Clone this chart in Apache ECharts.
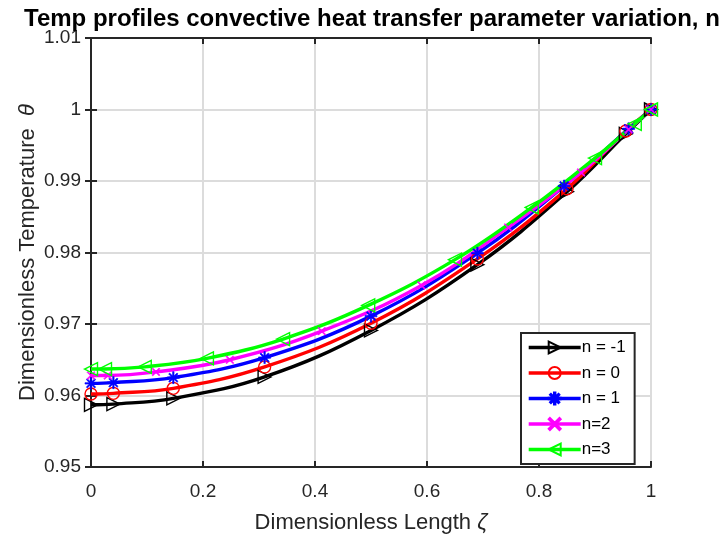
<!DOCTYPE html>
<html>
<head>
<meta charset="utf-8">
<script src="https://cdn.jsdelivr.net/npm/echarts@6/dist/echarts.min.js"></script>
<style>html,body{margin:0;padding:0;background:#fff}#c{width:720px;height:535px}</style>
</head>
<body>
<div id="c"></div>
<script>
// Data (solver mesh points where markers sit)
const seriesNames = ['n = -1', 'n = 0', 'n = 1', 'n=2', 'n=3'];
const xN1 = [0, 0.04, 0.147, 0.31, 0.5, 0.69, 0.85, 0.955, 1];
const yN1 = [0.9587, 0.9588, 0.9596, 0.9626, 0.9691, 0.9783, 0.9885, 0.9966, 1.0];
const xN0 = [0, 0.04, 0.147, 0.31, 0.5, 0.69, 0.85, 0.955, 1];
const yN0 = [0.9602, 0.9603, 0.9610, 0.9640, 0.9701, 0.9791, 0.9889, 0.9970, 1.0];
const xP1 = [0, 0.04, 0.147, 0.31, 0.5, 0.69, 0.845, 0.96, 1];
const yP1 = [0.9617, 0.9618, 0.9625, 0.9653, 0.9711, 0.9799, 0.9893, 0.9973, 1.0];
const xP2 = [0, 0.03, 0.116, 0.248, 0.412, 0.59, 0.745, 0.875, 0.96, 1];
const yP2 = [0.9628, 0.9628, 0.9633, 0.9650, 0.9690, 0.9754, 0.9835, 0.9912, 0.9972, 1.0];
const xP3 = [0, 0.025, 0.096, 0.207, 0.343, 0.495, 0.65, 0.787, 0.9, 0.971, 1];
const yP3 = [0.9637, 0.9637, 0.9640, 0.9652, 0.9679, 0.9726, 0.9790, 0.9863, 0.9932, 0.9980, 1.0];
const xTicks = [0, 0.2, 0.4, 0.6, 0.8, 1];
const yTicks = [0.95, 0.96, 0.97, 0.98, 0.99, 1, 1.01];

const zip = (xs, ys) => xs.map((x, i) => [x, ys[i]]);
const FONT = '"Liberation Sans", Arial, Helvetica, sans-serif';
const AX = '#262626';

const asterisk = 'path://M4.4,0H5.6V10H4.4Z M0,4.4H10V5.6H0Z M1.1,1.9L1.9,1.1L8.9,8.1L8.1,8.9Z M8.1,1.1L8.9,1.9L1.9,8.9L1.1,8.1Z';
const cross = 'path://M0,1L1,0L10,9L9,10Z M9,0L10,1L1,10L0,9Z';

function mk(name, xs, ys, color, symbol, size, rot, filled) {
  return {
    name: name, type: 'line', data: zip(xs, ys), smooth: 0.4,
    symbol: symbol, symbolSize: size, symbolRotate: rot, showAllSymbol: true,
    lineStyle: { color: color, width: 3.4 },
    itemStyle: { color: filled ? color : 'rgba(255,255,255,0)', borderColor: color, borderWidth: filled ? 0.6 : 1.4 },
    emphasis: { disabled: true }, z: 3
  };
}

const chart = echarts.init(document.getElementById('c'), null, { renderer: 'canvas' });
const fmt = v => String(parseFloat(Number(v).toFixed(2)));
const baseAxis = {
  axisLine: { show: true, lineStyle: { color: AX, width: 2 } },
  axisTick: { show: true, inside: true, length: 6, lineStyle: { color: AX, width: 2 } },
};
chart.setOption({
  animation: false,
  backgroundColor: '#fff',
  title: {
    text: 'Temp profiles convective heat transfer parameter variation, n',
    left: 19, top: 2,
    textStyle: { fontFamily: FONT, fontWeight: 'bold', fontSize: 24, color: '#000' }
  },
  grid: { left: 91, right: 69, top: 38, bottom: 68, containLabel: false, outerBoundsMode: 'none' },
  legend: {
    orient: 'vertical', left: 521, top: 333,
    itemWidth: 52, itemHeight: 15, itemGap: 8.5,
    padding: [6, 9, 6, 6],
    backgroundColor: '#fff', borderColor: AX, borderWidth: 2,
    lineStyle: { width: 3.4 },
    textStyle: { fontFamily: FONT, fontSize: 17, color: '#000', padding: [0, 0, 0, -4] },
    data: seriesNames
  },
  xAxis: [
    Object.assign({}, baseAxis, {
      type: 'value', min: 0, max: 1, interval: 0.2, position: 'bottom',
      name: 'Dimensionless Length {i|ζ}', nameLocation: 'middle', nameGap: 45,
      nameMoveOverlap: false,
      nameTextStyle: { fontFamily: FONT, fontSize: 22, color: AX, rich: { i: { fontFamily: FONT, fontSize: 22, fontStyle: 'italic', color: AX } } },
      axisLabel: { fontFamily: FONT, fontSize: 19, color: AX, margin: 15, formatter: fmt },
      splitLine: { show: true, lineStyle: { color: '#dcdcdc', width: 2 } }
    }),
    Object.assign({}, baseAxis, {
      type: 'value', min: 0, max: 1, interval: 0.2, position: 'top',
      axisLabel: { show: false }, splitLine: { show: false }
    })
  ],
  yAxis: [
    Object.assign({}, baseAxis, {
      type: 'value', min: 0.95, max: 1.01, interval: 0.01, position: 'left',
      name: 'Dimensionless Temperature  {i|θ}', nameLocation: 'middle', nameGap: 52,
      nameMoveOverlap: false,
      nameTextStyle: { fontFamily: FONT, fontSize: 22, color: AX, rich: { i: { fontFamily: FONT, fontSize: 22, fontStyle: 'italic', color: AX } } },
      axisLabel: { fontFamily: FONT, fontSize: 19, color: AX, margin: 10, formatter: fmt },
      splitLine: { show: true, lineStyle: { color: '#dcdcdc', width: 2 } }
    }),
    Object.assign({}, baseAxis, {
      type: 'value', min: 0.95, max: 1.01, interval: 0.01, position: 'right',
      axisLabel: { show: false }, splitLine: { show: false }
    })
  ],
  series: [
    mk(seriesNames[0], xN1, yN1, '#000000', 'triangle', 13, -90, false),
    mk(seriesNames[1], xN0, yN0, '#ff0000', 'circle', 12, 0, false),
    mk(seriesNames[2], xP1, yP1, '#0000ff', asterisk, 12, 0, true),
    mk(seriesNames[3], xP2, yP2, '#ff00ff', cross, 8, 0, true),
    mk(seriesNames[4], xP3, yP3, '#00ff00', 'triangle', 13, 90, false)
  ]
});
</script>
</body>
</html>
